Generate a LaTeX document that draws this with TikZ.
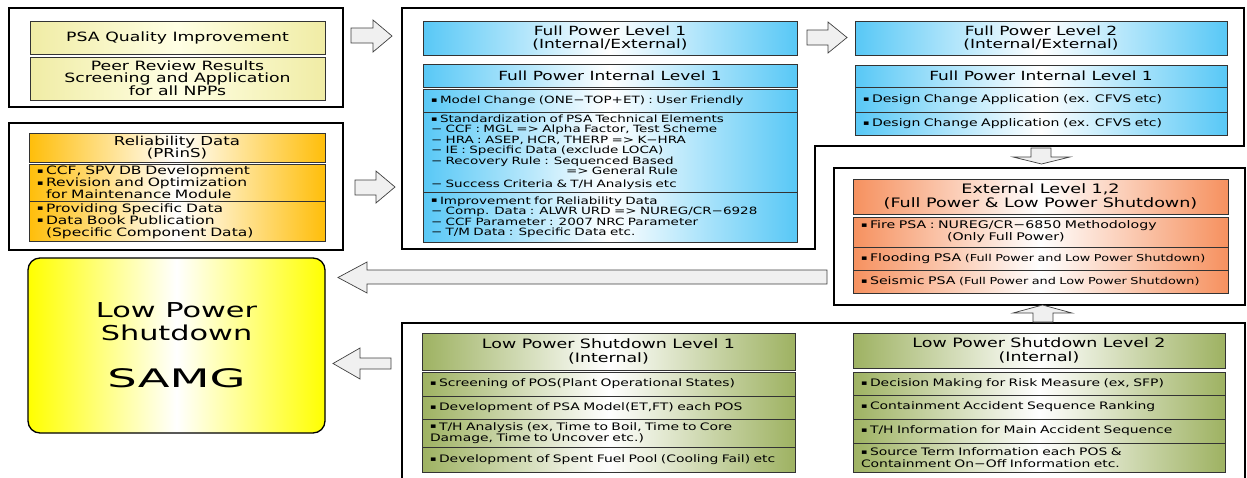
\documentclass[tikz,border=0pt]{standalone}
\usepackage{fontspec}
\setmainfont{DejaVu Sans}[FakeStretch=1.35]
\newfontfamily\lpsfont{DejaVu Sans}[FakeStretch=1.48]
\newfontfamily\samgfont{DejaVu Sans}[FakeStretch=1.82]
\usetikzlibrary{positioning}

\definecolor{qualyellow}{RGB}{240,236,165}
\definecolor{qualmid}{RGB}{255,255,228}
\definecolor{relgold}{RGB}{255,190,10}
\definecolor{fpblue}{RGB}{88,200,246}
\definecolor{exsalmon}{RGB}{246,145,95}
\definecolor{lpsgreen}{RGB}{158,178,98}
\definecolor{lpsyellow}{RGB}{255,255,0}
\definecolor{arrowgray}{RGB}{240,240,240}

\newcommand{\bul}{\makebox[9pt][l]{\raisebox{0.2ex}{\fontsize{7}{7}\selectfont ▪}}}
\newcommand{\ind}{\hspace*{9pt}}

\tikzset{
  frame/.style={draw=black, line width=2.5pt},
  box/.style={draw=black!80, line width=0.6pt, anchor=north west, outer sep=0pt, inner xsep=8pt, inner ysep=0pt},
  blockarrow/.style={draw=black!75, fill=arrowgray, line width=0.7pt},
  qualbox/.style={box, left color=qualyellow, right color=qualyellow, middle color=qualmid, minimum width=295pt, align=center, font=\fontsize{12.8}{11.8}\selectfont},
  reltitle/.style={box, left color=relgold, right color=relgold, middle color=white, minimum width=296pt, align=center, font=\fontsize{12.3}{12.5}\selectfont},
  relitem/.style={box, left color=relgold, right color=relgold, middle color=white, text width=280pt, align=left, font=\fontsize{11.5}{12}\selectfont},
  fptitle/.style={box, left color=fpblue, right color=fpblue, middle color=white, align=center, font=\fontsize{12.6}{13}\selectfont},
  fp1item/.style={box, left color=fpblue, right color=fpblue, middle color=white, text width=358pt, align=left, font=\fontsize{10}{10.5}\selectfont},
  fp2item/.style={box, left color=fpblue, right color=fpblue, middle color=white, text width=356pt, align=left, font=\fontsize{10.4}{11}\selectfont},
  extitle/.style={box, left color=exsalmon, right color=exsalmon, middle color=white, minimum width=375pt, align=center, font=\fontsize{13}{14}\selectfont},
  exitem/.style={box, left color=exsalmon, right color=exsalmon, middle color=white, text width=359pt, align=left, font=\fontsize{10.5}{12}\selectfont},
  lpstitle/.style={box, left color=lpsgreen, right color=lpsgreen, middle color=white, align=center, font=\fontsize{12.9}{14}\selectfont},
  lpsitem/.style={box, left color=lpsgreen, right color=lpsgreen, middle color=white, align=left, font=\fontsize{10.3}{11.5}\selectfont},
  samgbox/.style={box, draw=black, line width=1.3pt, rounded corners=12pt, left color=lpsyellow, right color=lpsyellow, middle color=white, align=center, font=\lpsfont\fontsize{20.5}{23}\selectfont}
}

\begin{document}
\begin{tikzpicture}[x=1pt,y=-1pt]
\useasboundingbox (0,0) rectangle (1247,477);
\clip (0,0) rectangle (1247,477);

% frames
\draw[frame] (9,8) rectangle (343,107);
\draw[frame] (9,123) rectangle (343,250);
\draw[frame] (402,8) -- (1244,8) -- (1244,146) -- (815,146) -- (815,249) -- (402,249) -- cycle;
\draw[frame] (834,168) rectangle (1245,305);
\draw[frame] (402,323) rectangle (1245,495);

% PSA quality
\node[qualbox, minimum height=33pt] (qual) at (30,21) {PSA Quality Improvement};
\node[qualbox, minimum height=43pt, below=3pt of qual] (peer) {Peer Review Results\\Screening and Application\\for all NPPs};

% reliability data
\node[reltitle, minimum height=29pt] (rel) at (29,133) {Reliability Data\\(PRinS)};
\node[relitem, minimum height=37pt, below=2pt of rel] (rel1) {\bul CCF, SPV DB Development\\\bul Revision and Optimization\\\ind for Maintenance Module};
\node[relitem, minimum height=40pt, below=0pt of rel1] (rel2) {\bul Providing Specific Data\\\bul Data Book Publication\\\ind (Specific Component Data)};

% full power level 1
\node[fptitle, minimum width=374pt, minimum height=34pt] (fp1) at (423,21) {Full Power Level 1\\(Internal/External)};
\node[fptitle, minimum width=374pt, minimum height=23pt] (fp1int) at (423,64) {Full Power Internal Level 1};
\node[fp1item, minimum height=23pt, below=2pt of fp1int] (fp1a) {\bul Model Change (ONE−TOP+ET) : User Friendly};
\node[fp1item, minimum height=80pt, below=0pt of fp1a] (fp1b) {\bul Standardization of PSA Technical Elements\\
  − CCF : MGL => Alpha Factor, Test Scheme\\
  − HRA : ASEP, HCR, THERP => K−HRA\\
  − IE : Specific Data (exclude LOCA)\\
  − Recovery Rule : Sequenced Based\\
  \hspace*{135pt}=> General Rule\\[2pt]
  − Success Criteria \& T/H Analysis etc};
\node[fp1item, minimum height=50pt, below=0pt of fp1b] (fp1c) {\bul Improvement for Reliability Data\\
  − Comp. Data : ALWR URD => NUREG/CR−6928\\
  − CCF Parameter : 2007 NRC Parameter\\
  − T/M Data : Specific Data etc.};

% full power level 2
\node[fptitle, minimum width=372pt, minimum height=34pt] (fp2) at (855,21) {Full Power Level 2\\(Internal/External)};
\node[fptitle, minimum width=372pt, minimum height=22pt] (fp2int) at (855,65) {Full Power Internal Level 1};
\node[fp2item, minimum height=25pt, below=0pt of fp2int] (fp2a) {\bul Design Change Application (ex. CFVS etc)};
\node[fp2item, minimum height=23pt, below=0pt of fp2a] (fp2b) {\bul Design Change Application (ex. CFVS etc)};

% external level 1,2
\node[extitle, minimum height=35pt] (ext) at (853,179) {External Level 1,2\\(Full Power \& Low Power Shutdown)};
\node[exitem, minimum height=30pt, below=3pt of ext] (ext1) {\bul Fire PSA : NUREG/CR−6850 Methodology\\\hspace*{86pt}(Only Full Power)};
\node[exitem, minimum height=23pt, below=0pt of ext1] (ext2) {\bul Flooding PSA {\fontsize{9.5}{10}\selectfont(Full Power and Low Power Shutdown)}};
\node[exitem, minimum height=23pt, below=0pt of ext2] (ext3) {\bul Seismic PSA {\fontsize{9.5}{10}\selectfont(Full Power and Low Power Shutdown)}};

% low power shutdown / SAMG
\node[samgbox, minimum width=297pt, minimum height=175pt] (samg) at (28,258) {Low Power\\Shutdown\\[24pt]\samgfont\fontsize{25.5}{26}\selectfont SAMG};

% low power shutdown level 1
\node[lpstitle, minimum width=373pt, minimum height=37pt] (lps1) at (422,333) {Low Power Shutdown Level 1\\(Internal)};
\node[lpsitem, text width=357pt, minimum height=24pt, below=2pt of lps1] (lps1a) {\bul Screening of POS(Plant Operational States)};
\node[lpsitem, text width=357pt, minimum height=23pt, below=0pt of lps1a] (lps1b) {\bul Development of PSA Model(ET,FT) each POS};
\node[lpsitem, text width=357pt, minimum height=28pt, below=0pt of lps1b] (lps1c) {\bul T/H Analysis (ex, Time to Boil, Time to Core\\Damage, Time to Uncover etc.)};
\node[lpsitem, text width=357pt, minimum height=25pt, below=0pt of lps1c] (lps1d) {\bul Development of Spent Fuel Pool (Cooling Fail) etc};

% low power shutdown level 2
\node[lpstitle, minimum width=372pt, minimum height=35pt] (lps2) at (853,333) {Low Power Shutdown Level 2\\(Internal)};
\node[lpsitem, text width=356pt, minimum height=23pt, below=4pt of lps2] (lps2a) {\bul Decision Making for Risk Measure (ex, SFP)};
\node[lpsitem, text width=356pt, minimum height=24pt, below=0pt of lps2a] (lps2b) {\bul Containment Accident Sequence Ranking};
\node[lpsitem, text width=356pt, minimum height=24pt, below=0pt of lps2b] (lps2c) {\bul T/H Information for Main Accident Sequence};
\node[lpsitem, text width=356pt, minimum height=29pt, below=0pt of lps2c] (lps2d) {\bul Source Term Information each POS \&\\Containment On−Off Information etc.};

% block arrows
\draw[blockarrow] (351,28) -- (373,28) -- (373,20) -- (392,36) -- (373,52) -- (373,43) -- (351,43) -- cycle;
\draw[blockarrow] (355,180) -- (376,180) -- (376,171) -- (395,187) -- (376,203) -- (376,195) -- (355,195) -- cycle;
\draw[blockarrow] (807,30) -- (828,30) -- (828,22) -- (847,37.5) -- (828,53) -- (828,45) -- (807,45) -- cycle;
\draw[blockarrow] (1031,148) -- (1051,148) -- (1051,157) -- (1070,157) -- (1041.5,164) -- (1013,157) -- (1031,157) -- cycle;
\draw[blockarrow] (827,270) -- (367,270) -- (367,262) -- (338,277.5) -- (367,293) -- (367,284) -- (827,284) -- cycle;
\draw[blockarrow] (391,358) -- (360,358) -- (360,348) -- (333,363.5) -- (360,379) -- (360,369) -- (391,369) -- cycle;
\draw[blockarrow] (1033,322) -- (1053,322) -- (1053,313) -- (1072,313) -- (1042.5,305) -- (1013,313) -- (1033,313) -- cycle;
\end{tikzpicture}
\end{document}
